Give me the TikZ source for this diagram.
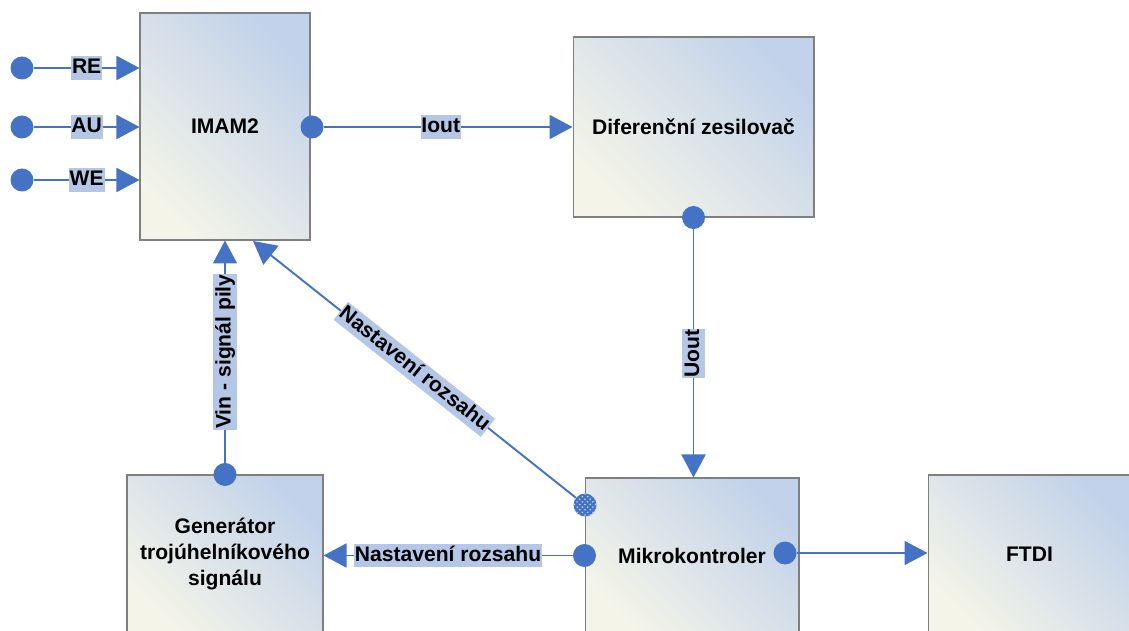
\documentclass[tikz,border=0pt]{standalone}
\usepackage{xcolor}
\usepackage{fontspec}
\setmainfont{Liberation Sans}
\usepackage{tikz}
\usetikzlibrary{arrows.meta,patterns}

\definecolor{linkblue}{HTML}{4472C4}
\definecolor{labelblue}{HTML}{B4C7E7}
\definecolor{boxcream}{HTML}{F4F4E8}
\definecolor{boxblue}{HTML}{C2D2EA}
\definecolor{boxgray}{HTML}{7F7F7F}

\begin{document}
\begin{tikzpicture}[x=0.02cm, y=-0.02cm,
        block/.style={draw=boxgray, line width=0.6pt, left color=boxcream, right color=boxblue, shading angle=135,
            align=center, inner sep=0pt, font=\fontsize{12}{15}\selectfont\bfseries},
        dot/.style={circle, fill=linkblue, inner sep=0pt, minimum size=4.6mm},
        speckle/.style={postaction={pattern=crosshatch dots, pattern color=white!70!linkblue}},
        link/.style={draw=linkblue, line width=1.1pt, -{Triangle[length=4.6mm,width=4.8mm]}},
        tag/.style={fill=labelblue, inner xsep=0.5pt, inner ysep=0.8pt, text height=9pt, text depth=2.5pt,
            font=\fontsize{12}{14}\selectfont\bfseries}]
            \useasboundingbox (0,0) rectangle (1129,631);

            \node[block, minimum width=3.4cm, minimum height=4.54cm] (imam) at (225,126.5) {IMAM2};
            \node[block, minimum width=4.82cm, minimum height=3.6cm] (diff) at (693.5,127) {Diferenční zesilovač};
            \node[block, minimum width=3.92cm, minimum height=3.16cm] (gen) at (225,554) {Generátor\\trojúhelníkového\\signálu};
            \node[block, minimum width=4.28cm, minimum height=3.1cm] (mcu) at (692,555.5) {Mikrokontroler};
            \node[block, minimum width=4.06cm, minimum height=3.16cm] (ftdi) at (1029.5,554) {FTDI};

            \node[dot] (re) at (22,68) {};
            \node[dot] (au) at (22,127) {};
            \node[dot] (we) at (22,180) {};
            \draw[link] (re) -- (re -| imam.west) node[midway, tag] {RE};
            \draw[link] (au) -- (au -| imam.west) node[midway, tag] {AU};
            \draw[link] (we) -- (we -| imam.west) node[midway, tag] {WE};

            \node[dot] (iout) at (312,127) {};
            \draw[link] (iout) -- (iout -| diff.west) node[pos=.47, tag] {Iout};

            \node[dot] (uout) at (diff.south) {};
            \draw[link] (uout) -- (uout |- mcu.north) node[midway, tag, rotate=90] {Uout};

            \node[dot] (vin) at (gen.north) {};
            \draw[link] (vin) -- (imam.south) node[midway, tag, rotate=90] {Vin - signál pily};

            % range setting back to IMAM2
            \node[dot, speckle] (range) at (585,505) {};
            \coordinate (rangetip) at (253,241);
            \draw[link] (range) -- (rangetip) node[midway, tag, sloped] {Nastavení rozsahu};

            \node[dot] (gain) at (mcu.west) {};
            \draw[link] (gain) -- (gain -| gen.east) node[midway, tag] {Nastavení rozsahu};

            \node[dot] (usb) at (785,553) {};
            \draw[link] (usb) -- (usb -| ftdi.west);
\end{tikzpicture}
\end{document}
